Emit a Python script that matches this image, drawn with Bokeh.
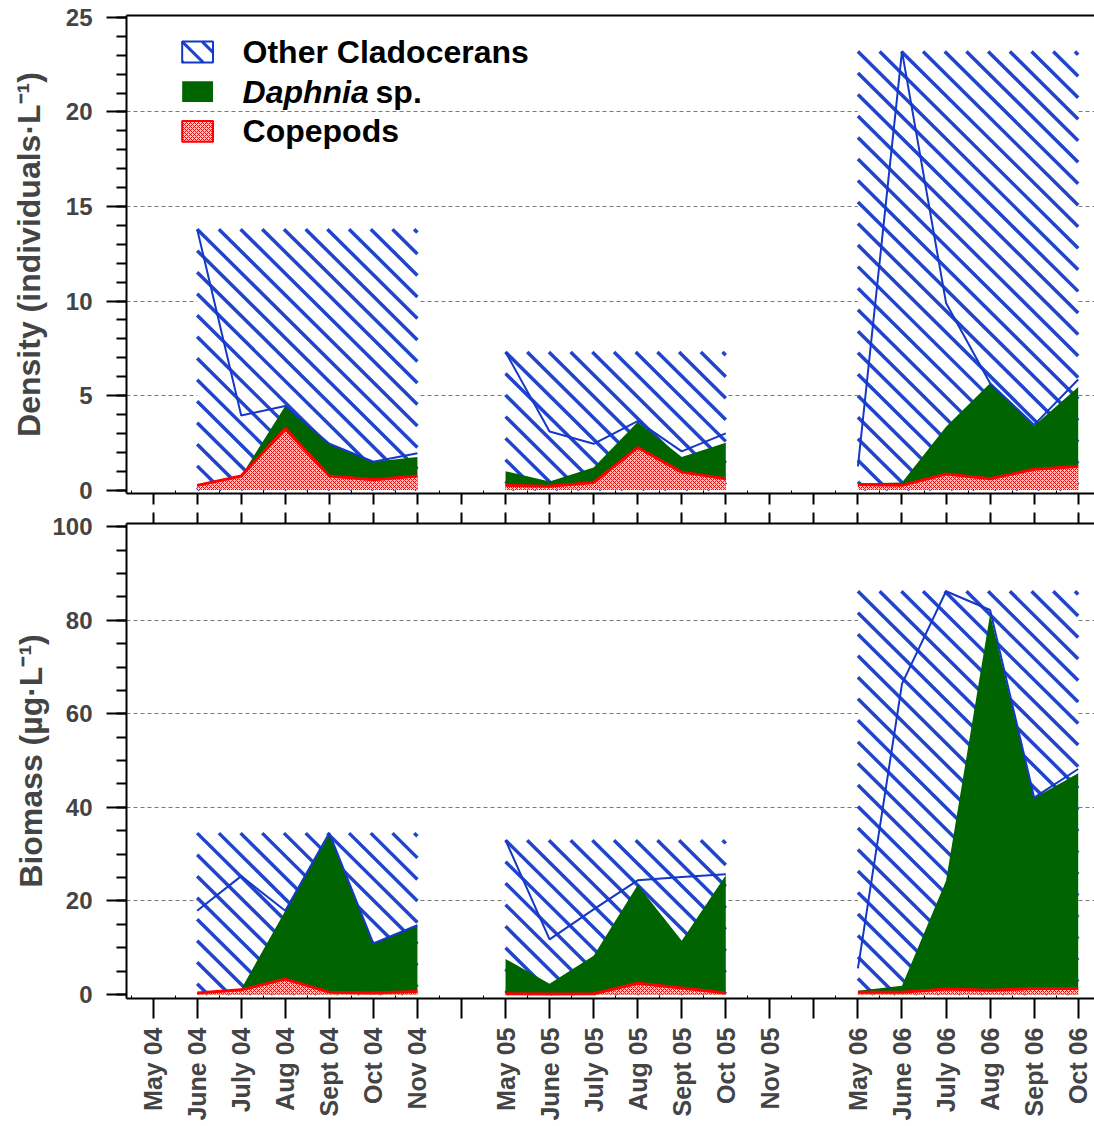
import math
import numpy as np
from bokeh.plotting import figure
from bokeh.layouts import column
from bokeh.models import FixedTicker, LinearAxis, Range1d, CustomLabelingPolicy
from bokeh.embed import file_html
from bokeh.resources import INLINE
from bokeh.core.properties import value

# ---- data -------------------------------------------------------------
# x-axis slots: one per month, blank slots separate the sampling seasons
months = ["May 04", "June 04", "July 04", "Aug 04", "Sept 04", "Oct 04", "Nov 04", "",
          "May 05", "June 05", "July 05", "Aug 05", "Sept 05", "Oct 05", "Nov 05", "",
          "May 06", "June 06", "July 06", "Aug 06", "Sept 06", "Oct 06"]

months_2004 = ["June 04", "July 04", "Aug 04", "Sept 04", "Oct 04", "Nov 04"]
months_2005 = ["May 05", "June 05", "July 05", "Aug 05", "Sept 05", "Oct 05"]
months_2006 = ["May 06", "June 06", "July 06", "Aug 06", "Sept 06", "Oct 06"]

# density (individuals per litre)
dens_copepods_2004 = [0.25, 0.75, 3.25, 0.75, 0.55, 0.75]
dens_daphnia_2004 = [0.0, 0.0, 1.2, 1.7, 0.95, 1.0]
dens_other_2004 = [13.55, 3.2, 0.0, 0.0, 0.0, 0.2]

dens_copepods_2005 = [0.25, 0.2, 0.4, 2.25, 0.95, 0.6]
dens_daphnia_2005 = [0.75, 0.25, 0.8, 1.35, 0.8, 1.9]
dens_other_2005 = [6.3, 2.65, 1.25, 0.05, 0.3, 0.5]

dens_copepods_2006 = [0.3, 0.25, 0.85, 0.6, 1.1, 1.25]
dens_daphnia_2006 = [0.05, 0.15, 2.5, 5.05, 2.3, 4.2]
dens_other_2006 = [0.9, 22.8, 6.55, 0.0, 0.05, 0.4]

# biomass (micrograms per litre)
bio_copepods_2004 = [0.3, 1.0, 3.3, 0.5, 0.3, 0.65]
bio_daphnia_2004 = [0.0, 0.2, 14.6, 33.7, 10.6, 14.05]
bio_other_2004 = [17.6, 24.1, 0.0, 0.3, 0.0, 0.1]

bio_copepods_2005 = [0.15, 0.1, 0.15, 2.4, 1.4, 0.35]
bio_daphnia_2005 = [7.45, 2.2, 8.15, 21.0, 10.1, 25.15]
bio_other_2005 = [25.4, 9.5, 9.9, 1.0, 13.6, 0.2]

bio_copepods_2006 = [0.5, 0.5, 1.2, 0.9, 1.3, 1.3]
bio_daphnia_2006 = [0.3, 1.4, 23.1, 80.4, 40.7, 46.0]
bio_other_2006 = [4.8, 64.5, 61.9, 0.9, 0.1, 0.9]

density_ticks = [0, 5, 10, 15, 20, 25]
biomass_ticks = [0, 20, 40, 60, 80, 100]

# ---- styling / layout -------------------------------------------------
FONT = "Liberation Sans"
BLUE = "#1438c8"
STRIPE_BLUE = "#2044cc"
GREEN = "#006400"
PINK = "#ffc4c4"
RED = "#ff0000"
WIDTH = 1094
BORDER_LEFT = 126
STIPPLE = dict(hatch_pattern="x", hatch_color=RED, hatch_scale=4, hatch_weight=1)

X_START, X_END = -0.604, 21.37
x_range = Range1d(X_START, X_END)
slot_ticks = list(range(len(months)))
PX_PER_SLOT = (WIDTH - BORDER_LEFT) / (X_END - X_START)

no_labels = CustomLabelingPolicy(code="return new Set()")
gap_slots = [i for i, m in enumerate(months) if m == ""]
skip_gaps = CustomLabelingPolicy(args=dict(skip=gap_slots), code="""
const result = new Set()
for (const i of indices) {
  if (!skip.includes(i))
    result.add(i)
}
return result
""")


def base_figure(height, y_start, y_end, border_top, border_bottom, ylabel, label_gap,
                top_ticks):
    p = figure(width=WIDTH, height=height, x_range=x_range,
               y_range=Range1d(y_start, y_end),
               output_backend="svg", toolbar_location=None, tools="",
               min_border_left=BORDER_LEFT, min_border_right=0,
               min_border_top=border_top, min_border_bottom=border_bottom)
    p.outline_line_color = None
    p.background_fill_color = "white"
    p.border_fill_color = "white"
    p.xgrid.visible = False
    p.ygrid.grid_line_color = "#7a7a7a"
    p.ygrid.grid_line_dash = "4 3"
    p.ygrid.grid_line_width = 1
    # vertical pixels per data unit, used to lay 45-degree stripes
    py = (height - border_top - border_bottom) / (y_end - y_start)

    ya = p.left[0]
    ya.axis_label = ylabel
    ya.axis_label_text_font = FONT
    ya.axis_label_text_font_style = "bold"
    ya.axis_label_text_font_size = "32px"
    ya.axis_label_standoff = label_gap
    ya.major_label_text_font = FONT
    ya.major_label_text_font_style = "bold"
    ya.major_label_text_font_size = "24px"
    ya.major_label_standoff = 14
    ya.axis_line_width = 2
    ya.major_tick_line_width = 2
    ya.minor_tick_line_width = 2
    ya.major_tick_out = 20
    ya.major_tick_in = 0
    ya.minor_tick_out = 10
    ya.minor_tick_in = 0

    xa = p.below[0]
    xa.ticker = FixedTicker(ticks=slot_ticks,
                            minor_ticks=[i + 0.5 for i in range(-1, len(months))])
    xa.axis_line_width = 2
    xa.major_tick_line_width = 2
    xa.minor_tick_line_width = 1
    xa.major_tick_in = 0
    xa.minor_tick_out = 0
    xa.minor_tick_in = 3

    # line along the top edge of the frame (month ticks pointing up if asked)
    top = LinearAxis(ticker=FixedTicker(ticks=slot_ticks if top_ticks else []),
                     axis_line_width=2, major_tick_line_width=2,
                     major_tick_out=top_ticks, major_tick_in=0,
                     minor_tick_out=0, minor_tick_in=0,
                     major_label_policy=no_labels,
                     major_label_text_font_size="1px", major_label_standoff=0)
    p.add_layout(top, "above")
    return p, py


def stripes(p, py, left, right, bottom, top, spacing, width):
    """Fill a box with "\\" stripes running at 45 degrees on screen."""
    w = (right - left) * PX_PER_SLOT
    h = (top - bottom) * py
    x0, y0, x1, y1 = [], [], [], []
    # screen line: v = u + c, u measured right from the left edge, v down from the top
    for c in np.arange(-math.floor(w / spacing) * spacing, h, spacing):
        u_a = max(0.0, -c)
        u_b = min(w, h - c)
        if u_b <= u_a:
            continue
        x0.append(left + u_a / PX_PER_SLOT)
        y0.append(top - (u_a + c) / py)
        x1.append(left + u_b / PX_PER_SLOT)
        y1.append(top - (u_b + c) / py)
    p.segment(x0=x0, y0=y0, x1=x1, y1=y1, line_color=STRIPE_BLUE,
              line_width=width, line_cap="butt")


def draw_season(p, py, sampled, copepods, daphnia, others):
    x = np.array([months.index(m) for m in sampled], dtype=float)
    cop = np.array(copepods, dtype=float)
    daph_top = cop + np.array(daphnia, dtype=float)
    total = daph_top + np.array(others, dtype=float)
    # hatched block spanning the cladoceran envelope
    p.quad(left=[x[0]], right=[x[-1]], bottom=[0], top=[total.max()],
           fill_color="white", line_color=None)
    stripes(p, py, x[0], x[-1], 0.0, total.max(), 21.7, 3.5)
    p.varea(x=x, y1=np.zeros_like(x), y2=daph_top, fill_color=GREEN)
    p.varea(x=x, y1=np.zeros_like(x), y2=cop, fill_color=PINK, **STIPPLE)
    p.line(x, cop, line_color=RED, line_width=3)
    p.line(x, total, line_color=BLUE, line_width=2)


# ---- density panel ----------------------------------------------------
p1, py1 = base_figure(508, -0.18, 25.1, 15, 11,
                      "Density (individuals\u00b7L\u207b\u00b9)", 16, 0)
p1.left[0].ticker = FixedTicker(ticks=density_ticks, minor_ticks=list(range(0, 26)))
p1.ygrid.ticker = FixedTicker(ticks=density_ticks[1:-1])
xa1 = p1.below[0]
xa1.major_tick_out = 11
xa1.major_label_policy = no_labels
xa1.major_label_text_font_size = "1px"
xa1.major_label_standoff = 0

draw_season(p1, py1, months_2004, dens_copepods_2004, dens_daphnia_2004, dens_other_2004)
draw_season(p1, py1, months_2005, dens_copepods_2005, dens_daphnia_2005, dens_other_2005)
draw_season(p1, py1, months_2006, dens_copepods_2006, dens_daphnia_2006, dens_other_2006)

# legend, laid out in the density panel's coordinates
leg_box_l, leg_box_r = 0.66, 1.36
leg_rows = [23.17, 21.07, 18.97]
leg_half = 0.55
leg_text_x = 2.03
p1.quad(left=[leg_box_l], right=[leg_box_r], bottom=[leg_rows[0] - leg_half],
        top=[leg_rows[0] + leg_half], fill_color="white", line_color=None)
stripes(p1, py1, leg_box_l, leg_box_r, leg_rows[0] - leg_half, leg_rows[0] + leg_half, 20, 3)
p1.quad(left=[leg_box_l], right=[leg_box_r], bottom=[leg_rows[0] - leg_half],
        top=[leg_rows[0] + leg_half], fill_color=None, line_color=BLUE, line_width=2)
p1.quad(left=[leg_box_l], right=[leg_box_r], bottom=[leg_rows[1] - leg_half],
        top=[leg_rows[1] + leg_half], fill_color=GREEN, line_color=None)
p1.quad(left=[leg_box_l], right=[leg_box_r], bottom=[leg_rows[2] - leg_half],
        top=[leg_rows[2] + leg_half], fill_color=PINK, line_color=RED, line_width=2,
        **STIPPLE)

text_kw = dict(text_font=value(FONT), text_font_size="32px", text_baseline="middle",
               text_align="left", text_color="black")
p1.text(x=[leg_text_x], y=[leg_rows[0]], text=["Other Cladocerans"],
        text_font_style="bold", **text_kw)
p1.text(x=[leg_text_x], y=[leg_rows[1]], text=["Daphnia"],
        text_font_style="bold italic", **text_kw)
p1.text(x=[5.05], y=[leg_rows[1]], text=["sp."], text_font_style="bold", **text_kw)
p1.text(x=[leg_text_x], y=[leg_rows[2]], text=["Copepods"],
        text_font_style="bold", **text_kw)

# ---- biomass panel ----------------------------------------------------
p2, py2 = base_figure(618, -0.85, 100.68, 11, 128,
                      "Biomass (\u00b5g\u00b7L\u207b\u00b9)", 0, 11)
p2.left[0].ticker = FixedTicker(ticks=biomass_ticks, minor_ticks=list(range(0, 101, 5)))
p2.ygrid.ticker = FixedTicker(ticks=biomass_ticks[1:-1])
xa2 = p2.below[0]
xa2.major_tick_out = 20
xa2.major_label_overrides = {i: m for i, m in enumerate(months) if m}
xa2.major_label_policy = skip_gaps
xa2.major_label_orientation = math.pi / 2
xa2.major_label_text_font = FONT
xa2.major_label_text_font_style = "bold"
xa2.major_label_text_font_size = "25px"
xa2.major_label_standoff = 9

draw_season(p2, py2, months_2004, bio_copepods_2004, bio_daphnia_2004, bio_other_2004)
draw_season(p2, py2, months_2005, bio_copepods_2005, bio_daphnia_2005, bio_other_2005)
draw_season(p2, py2, months_2006, bio_copepods_2006, bio_daphnia_2006, bio_other_2006)

layout = column(p1, p2, spacing=0)
open("out.html", "w").write(file_html(layout, INLINE))
